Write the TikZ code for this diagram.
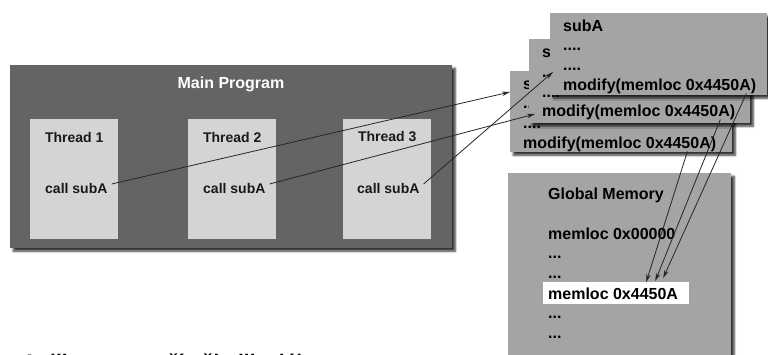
\documentclass[tikz,border=0pt]{standalone}
\usepackage{fontspec}
\setmainfont{Liberation Sans}
\usetikzlibrary{shadows.blur,arrows.meta,calc}
\definecolor{maingray}{HTML}{646464}
\definecolor{threadgray}{HTML}{D4D4D4}
\definecolor{boxgray}{HTML}{A4A4A4}
\begin{document}
\begin{tikzpicture}[x=1pt,y=-1pt,
  panel/.style={rectangle, inner sep=0pt, anchor=north west,
    blur shadow={shadow xshift=3pt, shadow yshift=-3pt, shadow opacity=80, shadow blur steps=6}},
  threadbox/.style={rectangle, inner sep=0pt, anchor=north west, fill=threadgray,
    minimum width=88pt, minimum height=120pt},
  txt/.style={inner sep=0pt, anchor=base west, font=\bfseries\fontsize{16}{19}\selectfont},
  ttxt/.style={inner sep=0pt, font=\bfseries\fontsize{14}{17}\selectfont, text=black!90},
  conn/.style={draw=black!85, line width=0.8pt, -{Stealth[length=8pt,width=4.5pt]}}
]
\useasboundingbox (0,0) rectangle (768,354);
\clip (0,0) rectangle (768,354);

% main program with its three threads
\node[panel, fill=maingray, minimum width=442pt, minimum height=183pt] (main) at (10,65) {};
\node[txt, anchor=center, text=white] (maintitle) at (231,84) {Main Program};
\node[threadbox] (th1) at (30,119) {};
\node[threadbox] (th2) at (188,119) {};
\node[threadbox] (th3) at (343,119) {};
\node[ttxt] (t1) at (th1.north |- 0,137) {Thread 1};
\node[ttxt] (t2) at (th2.north |- 0,137) {Thread 2};
\node[ttxt] (t3) at (th3.north |- 0,137) {Thread 3};
\node[ttxt, anchor=west] (c1) at (45,188) {call subA};
\node[ttxt, anchor=west] (c2) at (203,188) {call subA};
\node[ttxt, anchor=west] (c3) at (357,188) {call subA};

% three stacked copies of subA, back to front
\node[panel, fill=boxgray, minimum width=222pt, minimum height=81pt] (boxC) at (510,71) {};
\node[txt] (sC)  at (523,89)  {subA};
\node[txt] (dC1) at (523,108) {....};
\node[txt] (dC2) at (523,128) {....};
\node[txt] (mC)  at (523,148) {modify(memloc 0x4450A)};

\node[panel, fill=boxgray, minimum width=221pt, minimum height=84pt] (boxB) at (529,39) {};
\node[txt] (sB)  at (542,57)  {subA};
\node[txt] (dB1) at (542,77)  {....};
\node[txt] (dB2) at (542,97)  {....};
\node[txt] (mB)  at (542,116) {modify(memloc 0x4450A)};

\node[panel, fill=boxgray, minimum width=217pt, minimum height=82pt] (boxA) at (550,13) {};
\node[txt] (sA)  at (563,31) {subA};
\node[txt] (dA1) at (563,50) {....};
\node[txt] (dA2) at (563,70) {....};
\node[txt] (mA)  at (563,90) {modify(memloc 0x4450A)};

% global memory
\node[panel, fill=boxgray, minimum width=223pt, minimum height=200pt] (glob) at (508,173) {};
\node[txt] (gt) at (548,199) {Global Memory};
\node[txt] (g0) at (548,239) {memloc 0x00000};
\node[txt] (g1) at (548,258) {...};
\node[txt] (g2) at (548,278) {...};
\node[rectangle, fill=white, inner sep=0pt, anchor=north west,
  minimum width=146pt, minimum height=22pt] (hl) at (543,282) {};
\node[txt] (gx) at (548,299) {memloc 0x4450A};
\node[txt] (g3) at (548,318) {...};
\node[txt] (g4) at (548,338) {...};

% caption line below the figure
\node[inner sep=0pt, anchor=base west, font=\bfseries\fontsize{21}{25}\selectfont]
  (caption) at (22,369) {Aplikace vytvoří několik vláken};

% calls from the threads into subA
\draw[conn] ([xshift=4pt,yshift=4pt]c1.east) -- ([xshift=-13pt,yshift=-3pt]sC.base west);
\draw[conn] ([xshift=4pt,yshift=4pt]c2.east) -- ([xshift=-7pt,yshift=2pt]mB.base west);
\draw[conn] ([xshift=4pt,yshift=4pt]c3.east) -- ([xshift=-10pt,yshift=-2pt]dA2.base west);

% every copy writes the same memory location
\draw[conn] ([xshift=-10pt]mA.south east) -- ([xshift=47pt,yshift=4pt]hl.north);
\draw[conn] ([xshift=-15pt]mB.south east) -- ([xshift=39pt,yshift=1pt]hl.north);
\draw[conn] ([xshift=-29pt]mC.south east) -- ([xshift=30pt]hl.north);
\end{tikzpicture}
\end{document}
